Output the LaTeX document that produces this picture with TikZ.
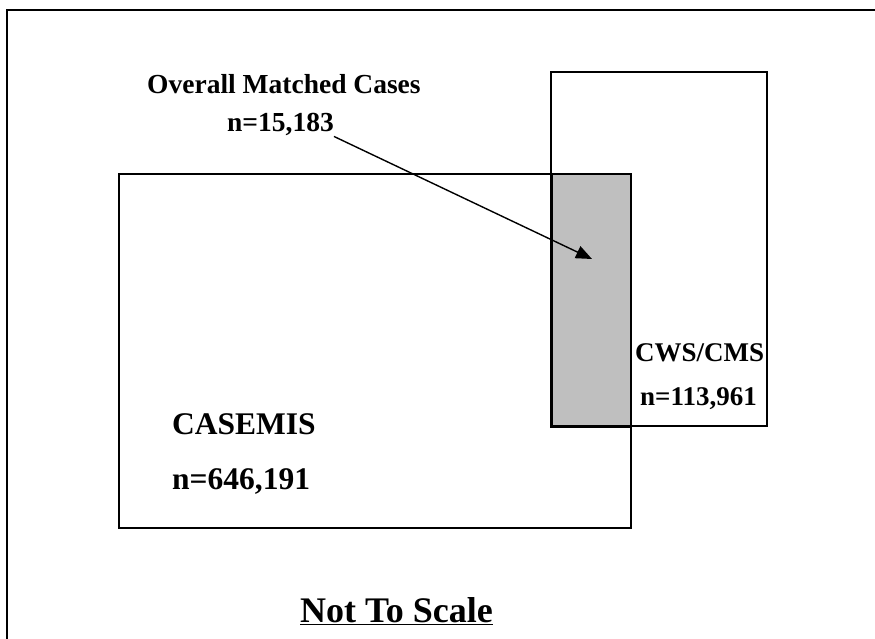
\documentclass[tikz,border=0pt]{standalone}
\usepackage{fontspec}
\setmainfont{Liberation Serif}
\usetikzlibrary{arrows.meta}

\begin{document}
\begin{tikzpicture}[x=1pt, y=-1pt,
boxline/.style={draw=black, line width=2.2pt},
overlap/.style={fill=black!25},
labeltext/.style={inner sep=0pt, anchor=base west, font=\bfseries\fontsize{27.5}{30}\selectfont},
bigtext/.style={inner sep=0pt, anchor=base west, font=\bfseries\fontsize{31.5}{34}\selectfont},
pointer/.style={line width=1.4pt, -{Triangle[length=16pt,width=13pt]}}
]
        \useasboundingbox (0,0) rectangle (875,639);
        \begin{scope}
        \clip (0,0) rectangle (875,639);
        \draw [line width=2.3pt] (7,660) -- (7,10) -- (900,10);
        \end{scope}
        
        % shared part of both sets
        \fill [overlap] (551,174) rectangle (631,426);
        \draw [boxline] (119,174) rectangle (631,528);
        \draw [boxline] (551,72) rectangle (767,426);
        \draw [line width=3pt] (551,174) -- (551,426) -- (631,426);
        
        \node [labeltext] (ovr) at (147,94) {Overall Matched Cases};
        \node [labeltext] (ovrn) at (227,132) {n=15,183};
        \coordinate (tip) at (592,259);
        
        \node [labeltext,font=\bfseries\fontsize{27}{30}\selectfont] (cws) at (635,361) {CWS/CMS};
        \node [labeltext,font=\bfseries\fontsize{27}{30}\selectfont] (cwsn) at (640,405) {n=113,961};
        
        \node [bigtext] (cas) at (172,434) {CASEMIS};
        \node [bigtext] (casn) at (172,489) {n=646,191};
        
        \node [inner sep=0pt, anchor=base west, font=\bfseries\fontsize{36}{40}\selectfont] (scale) at (300,622) {\underline{Not To Scale}};
        
        \draw [pointer] (ovrn.south east) -- (tip);
        
\end{tikzpicture}
\end{document}
